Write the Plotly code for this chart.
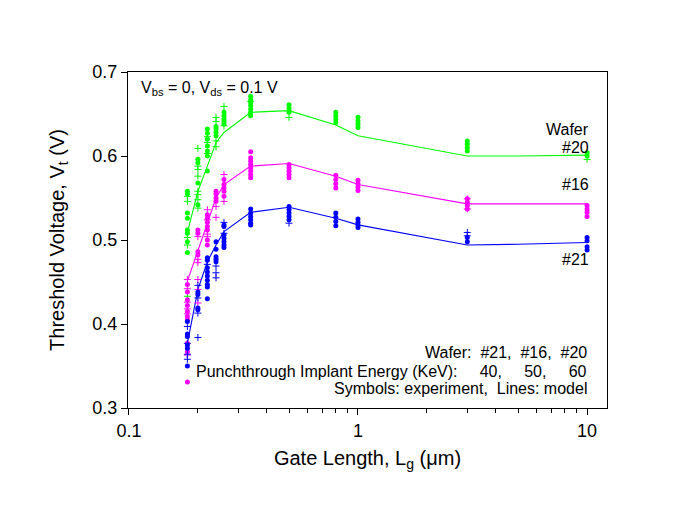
import plotly.graph_objects as go

GREEN = "#00ff00"
MAGENTA = "#ff00ff"
BLUE = "#0000ff"

# ---- model lines ----
x_model = [0.18, 0.2, 0.22, 0.24, 0.26, 0.34, 0.5, 0.8, 1.0, 3, 5, 10]
model_w20 = [0.509, 0.558, 0.588, 0.616, 0.628, 0.652, 0.654, 0.637, 0.624, 0.600, 0.600, 0.601]
model_w16 = [0.451, 0.486, 0.520, 0.550, 0.566, 0.588, 0.591, 0.576, 0.566, 0.543, 0.543, 0.543]
model_w21 = [0.377, 0.441, 0.474, 0.494, 0.510, 0.533, 0.539, 0.526, 0.518, 0.494, 0.495, 0.497]

# ---- experiment: wafer #20 ----
w20_dot_x = [0.18]*8 + [0.2]*4 + [0.22]*7 + [0.24]*4 + [0.26]*5 + [0.34]*7 + [0.5]*4 + [0.8]*4 + [1.0]*4 + [3]*4 + [10]*2
w20_dot_y = [0.558, 0.555, 0.532, 0.526, 0.512, 0.508, 0.498, 0.485,
             0.596, 0.592, 0.568, 0.542,
             0.632, 0.627, 0.620, 0.612, 0.606, 0.600, 0.582,
             0.635, 0.632, 0.628, 0.624,
             0.652, 0.648, 0.644, 0.641, 0.638,
             0.671, 0.667, 0.664, 0.660, 0.656, 0.652, 0.648,
             0.661, 0.657, 0.654, 0.652,
             0.652, 0.648, 0.644, 0.640,
             0.646, 0.642, 0.638, 0.634,
             0.618, 0.614, 0.610, 0.606,
             0.604, 0.600]
w20_plus_x = [0.18]*5 + [0.2]*8 + [0.22]*3 + [0.24]*4 + [0.26]*2 + [0.34] + [0.5] + [10]
w20_plus_y = [0.552, 0.546, 0.503, 0.494, 0.433,
              0.609, 0.588, 0.584, 0.576, 0.558, 0.554, 0.548, 0.538,
              0.623, 0.616, 0.603,
              0.646, 0.641, 0.618, 0.611,
              0.659, 0.636,
              0.665,
              0.646,
              0.596]

# ---- experiment: wafer #16 ----
w16_dot_x = [0.18]*10 + [0.2]*4 + [0.22]*7 + [0.24]*4 + [0.26]*5 + [0.34]*8 + [0.5]*5 + [0.8]*4 + [1.0]*4 + [3]*4 + [10]*4
w16_dot_y = [0.447, 0.438, 0.429, 0.422, 0.415, 0.409, 0.405, 0.377, 0.367, 0.331,
             0.512, 0.508, 0.486, 0.482,
             0.530, 0.526, 0.521, 0.516, 0.512, 0.500, 0.494,
             0.558, 0.555, 0.550, 0.546,
             0.572, 0.566, 0.562, 0.558, 0.552,
             0.605, 0.598, 0.594, 0.590, 0.586, 0.582, 0.578, 0.574,
             0.590, 0.586, 0.582, 0.578, 0.574,
             0.577, 0.572, 0.567, 0.562,
             0.571, 0.567, 0.563, 0.559,
             0.549, 0.545, 0.541, 0.537,
             0.541, 0.537, 0.533, 0.528]
w16_plus_x = [0.18]*6 + [0.2]*6 + [0.22]*4 + [0.24]*2 + [0.26]*2 + [3]*2
w16_plus_y = [0.453, 0.442, 0.426, 0.418, 0.412, 0.363,
              0.504, 0.477, 0.473, 0.453, 0.441, 0.425,
              0.536, 0.524, 0.507, 0.504,
              0.540, 0.527,
              0.578, 0.546,
              0.549, 0.537]

# ---- experiment: wafer #21 ----
w21_dot_x = [0.18]*6 + [0.2]*4 + [0.22]*9 + [0.24]*5 + [0.26]*7 + [0.34]*6 + [0.5]*5 + [0.8]*4 + [1.0]*4 + [3]*2 + [10]*4
w21_dot_y = [0.403, 0.388, 0.385, 0.375, 0.371, 0.350,
             0.438, 0.435, 0.419, 0.417,
             0.479, 0.476, 0.467, 0.462, 0.457, 0.452, 0.447, 0.444, 0.430,
             0.498, 0.489, 0.480, 0.477, 0.474,
             0.518, 0.516, 0.506, 0.502, 0.498, 0.494, 0.491,
             0.537, 0.532, 0.528, 0.524, 0.520, 0.518,
             0.540, 0.536, 0.532, 0.528, 0.524,
             0.532, 0.527, 0.522, 0.517,
             0.525, 0.521, 0.518, 0.515,
             0.503, 0.498,
             0.503, 0.499, 0.492, 0.488]
w21_plus_x = [0.18]*4 + [0.2]*4 + [0.22] + [0.24]*3 + [0.26]*2 + [0.5] + [3]*2
w21_plus_y = [0.397, 0.377, 0.364, 0.358,
              0.446, 0.431, 0.413, 0.384,
              0.471,
              0.469, 0.461, 0.455,
              0.521, 0.508,
              0.520,
              0.509, 0.505]

FONT = "Liberation Sans, Arial, sans-serif"

fig = go.Figure()

for ym, col in [(model_w20, GREEN), (model_w16, MAGENTA), (model_w21, BLUE)]:
    fig.add_trace(go.Scatter(x=x_model, y=ym, mode="lines",
                             line=dict(color=col, width=1.1), hoverinfo="skip"))

series = [
    (w20_dot_x, w20_dot_y, w20_plus_x, w20_plus_y, GREEN),
    (w16_dot_x, w16_dot_y, w16_plus_x, w16_plus_y, MAGENTA),
    (w21_dot_x, w21_dot_y, w21_plus_x, w21_plus_y, BLUE),
]
for dx, dy, px, py, col in series:
    fig.add_trace(go.Scatter(x=dx, y=dy, mode="markers",
                             marker=dict(symbol="circle", size=5, color=col,
                                         line=dict(width=0)),
                             hoverinfo="skip"))
    fig.add_trace(go.Scatter(x=px, y=py, mode="markers",
                             marker=dict(symbol="cross-thin", size=5, color=col,
                                         line=dict(width=1, color=col)),
                             hoverinfo="skip"))

minor_vals = [v * m for m in (0.1, 1) for v in range(2, 10)]

fig.update_xaxes(
    type="log", range=[-1.004, 1.087],
    tickvals=[0.1, 1, 10], ticktext=["0.1", "1", "10"],
    ticks="outside", ticklen=6, tickwidth=1, tickcolor="black",
    minor=dict(tickvals=minor_vals, ticks="outside", ticklen=4, tickwidth=1, tickcolor="black", showgrid=False),
    showline=True, linecolor="black", linewidth=1, mirror=True,
    showgrid=False, zeroline=False,
    tickfont=dict(size=18, color="black", family=FONT),
    title=dict(text="Gate Length, L<sub>g</sub> (\u03bcm)",
               font=dict(size=20, color="black", family=FONT), standoff=11),
)
fig.update_yaxes(
    range=[0.3, 0.7], tickvals=[0.3, 0.4, 0.5, 0.6, 0.7],
    ticktext=["0.3", "0.4", "0.5", "0.6", "0.7"],
    ticks="outside", ticklen=6, tickwidth=1, tickcolor="black",
    showline=True, linecolor="black", linewidth=1, mirror=True,
    showgrid=False, zeroline=False,
    tickfont=dict(size=18, color="black", family=FONT),
    title=dict(text="Threshold Voltage, V<sub>t</sub> (V)",
               font=dict(size=20, color="black", family=FONT), standoff=22),
)

def ann(text, x, y, xanchor, size=16):
    fig.add_annotation(text=text, x=x, y=y, xref="paper", yref="paper",
                       xanchor=xanchor, yanchor="middle", showarrow=False,
                       font=dict(size=size, color="black", family=FONT))

S = "\u00a0"
ann("V<sub>bs</sub> = 0, V<sub>ds</sub> = 0.1 V", 0.022, 0.95, "left")
ann("Wafer", 0.966, 0.830, "right")
ann("#20", 0.966, 0.774, "right")
ann("#16", 0.966, 0.664, "right")
ann("#21", 0.966, 0.443, "right")
ann("Wafer:" + S*2 + "#21," + S*2 + "#16," + S*2 + "#20", 0.962, 0.164, "right")
ann("Punchthrough Implant Energy (KeV):" + S*5 + "40," + S*5 + "50," + S*5 + "60", 0.962, 0.110, "right")
ann("Symbols: experiment," + S*2 + "Lines: model", 0.962, 0.057, "right")

# page body adds an 8px offset; figure sized so the plot box lands on the reference position
fig.update_layout(
    width=663, height=512,
    margin=dict(l=120, r=64, t=64, b=112),
    paper_bgcolor="white", plot_bgcolor="white",
    showlegend=False,
    font=dict(family=FONT, color="black"),
)

fig.write_html("out.html")
